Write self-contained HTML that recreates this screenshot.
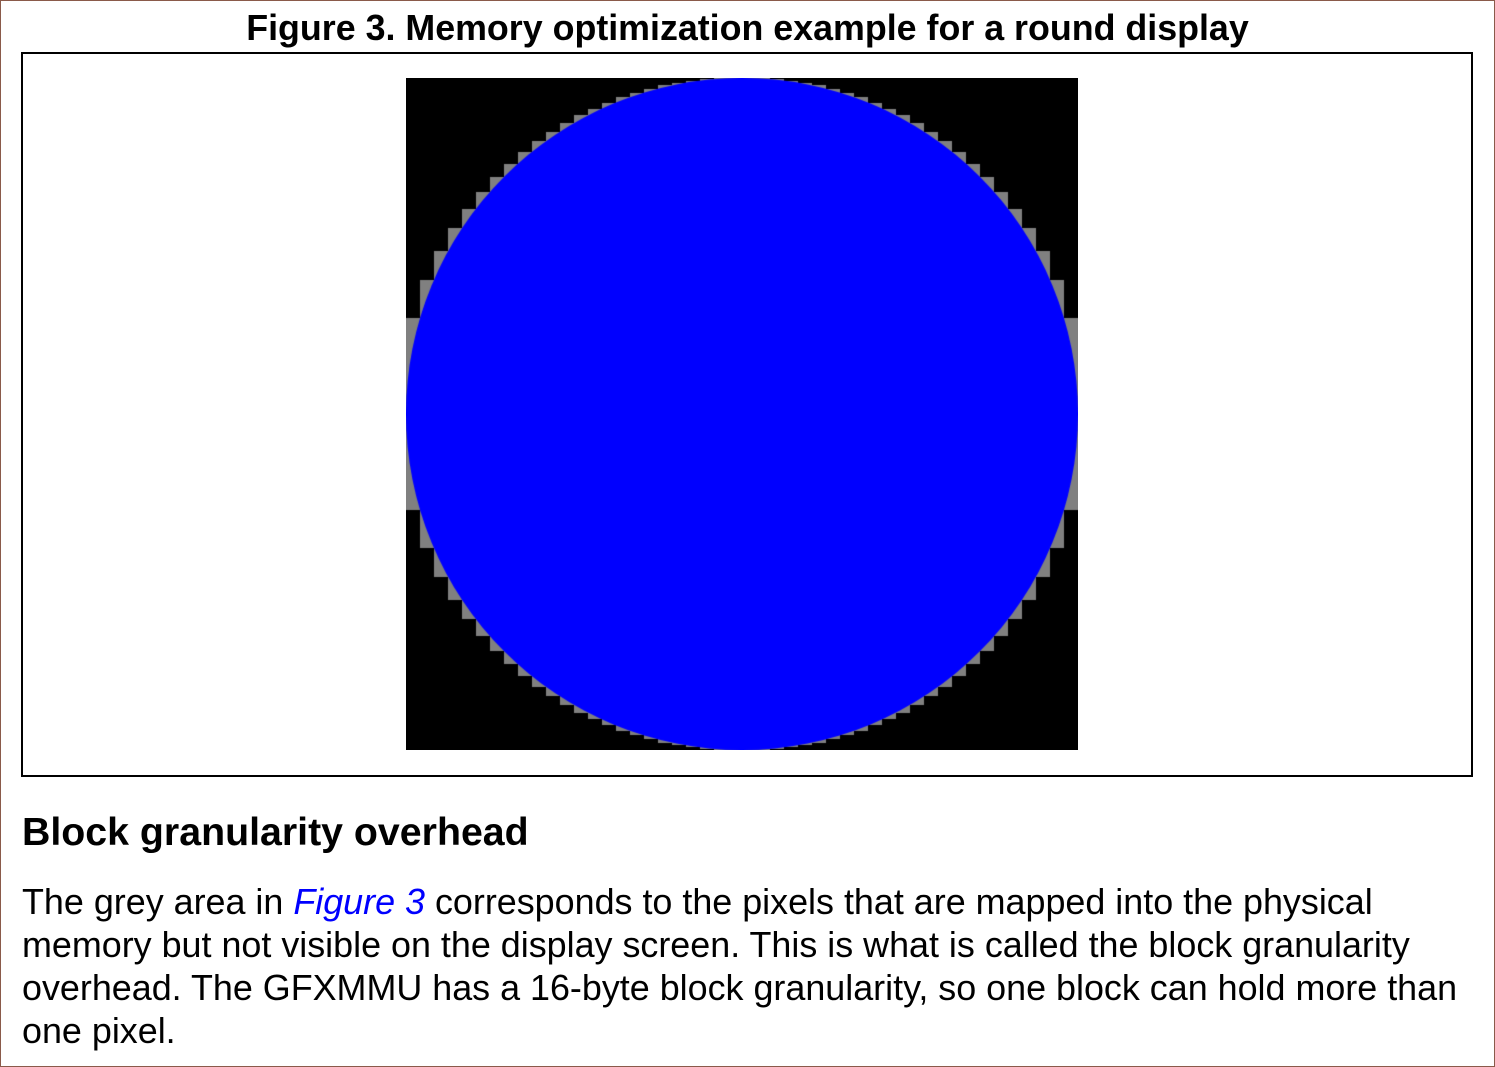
<!DOCTYPE html>
<html><head><style>
html,body{margin:0;padding:0;background:#fff;}
body{width:1495px;height:1067px;position:relative;overflow:hidden;font-family:"Liberation Sans",Arial,sans-serif;color:#000;}
#outer{position:absolute;left:0;top:0;width:1493px;height:1065px;border:1px solid #8a5a4a;}
#title{position:absolute;left:0;width:1495px;top:7px;text-align:center;font-weight:bold;font-size:35.8px;line-height:42px;white-space:nowrap;}
#frame{position:absolute;left:21px;top:52px;width:1448px;height:721px;border:2px solid #000;}
canvas{position:absolute;left:406px;top:78px;}
#h{position:absolute;left:22px;top:809px;font-weight:bold;font-size:39.3px;line-height:46px;white-space:nowrap;}
#p{position:absolute;left:22px;top:881px;width:1470px;font-size:35.9px;line-height:43px;white-space:nowrap;}
#p i{color:#0000ff;}
</style></head><body>
<div id="outer"></div>
<div id="title">Figure 3. Memory optimization example for a round display</div>
<div id="frame"></div>
<canvas id="c" width="672" height="672"></canvas>
<div id="h">Block granularity overhead</div>
<div id="p">The grey area in <i>Figure 3</i> corresponds to the pixels that are mapped into the physical<br>memory but not visible on the display screen. This is what is called the block granularity<br>overhead. The GFXMMU has a 16-byte block granularity, so one block can hold more than<br>one pixel.</div>
<script>
var c=document.getElementById('c'),x=c.getContext('2d');
x.fillStyle='#000';x.fillRect(0,0,672,672);
var r=336,cx=336,cy=336,b=14;
x.fillStyle='#808080';
for(var y=0;y<672;y++){var d=y+0.5-cy;var w=Math.sqrt(Math.max(0,r*r-d*d));
var l=Math.floor((cx-w)/b)*b;var rr=Math.min(672,Math.ceil((cx+w)/b)*b);
x.fillRect(l,y,rr-l,1);}
x.fillStyle='#0000ff';x.beginPath();x.arc(cx,cy,r,0,Math.PI*2);x.fill();
</script>
</body></html>
